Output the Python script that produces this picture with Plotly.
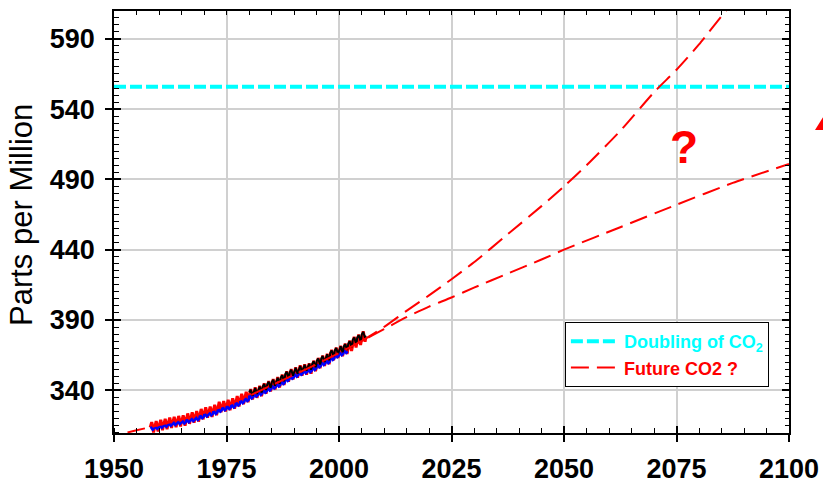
import plotly.graph_objects as go

# ---------------- data ----------------
years_obs = list(range(1958, 2006))
red_annual = [313.8, 314.5, 315.4, 316.1, 317.0, 317.5, 318.1, 318.5, 319.9, 320.7,
              321.5, 323.1, 324.2, 324.8, 326.0, 328.2, 328.7, 329.6, 330.6, 332.3,
              333.9, 335.3, 337.2, 338.4, 339.6, 341.3, 342.9, 344.4, 345.7, 347.5,
              349.9, 351.4, 352.7, 354.1, 354.9, 355.6, 357.4, 359.4, 361.1, 362.3,
              365.1, 366.8, 368.0, 369.6, 371.7, 374.3, 376.0, 378.3]
red_season = [-0.2, 0.8, 1.8, 3.0, 3.6, 2.6, 0.9, -1.6, -3.6, -3.8, -2.3, -1.2]

years_blue = list(range(1958, 2002))
blue_annual = [312.8, 313.5, 314.2, 314.9, 315.6, 316.2, 316.8, 317.2, 318.1, 318.9,
               319.7, 321.0, 322.2, 323.0, 324.1, 325.7, 326.6, 327.6, 328.6, 330.1,
               331.7, 333.2, 335.1, 336.4, 337.6, 339.1, 340.7, 342.2, 343.6, 345.3,
               347.5, 349.1, 350.5, 351.9, 353.0, 353.8, 355.3, 357.2, 358.9, 360.2,
               362.5, 364.4, 365.8, 367.4]
blue_season = [0.4, 0.7, 0.8, 0.6, 0.2, -0.3, -0.7, -0.9, -0.7, -0.3, 0.0, 0.2]

years_black = list(range(1980, 2006))
black_annual = [338.3, 339.5, 340.7, 342.4, 344.0, 345.5, 346.9, 348.7, 351.1, 352.6,
                353.9, 355.3, 356.1, 356.8, 358.6, 360.6, 362.3, 363.5, 366.3, 368.0,
                369.2, 370.8, 372.9, 375.5, 377.2, 379.5]
black_season = [0.2, 0.8, 1.5, 2.0, 2.0, 1.2, 0.0, -1.4, -2.2, -2.2, -1.3, -0.6]

future_low_years = [1953, 1955, 1960, 1965, 1970, 1975, 1980, 1985, 1990, 1995, 2000,
                    2005, 2010, 2015, 2020, 2025, 2030, 2037.5, 2045, 2050, 2062.5,
                    2075, 2087.5, 2100]
future_low_ppm = [310.0, 311.5, 315.3, 319.3, 324.0, 329.5, 336.0, 343.5, 351.0, 358.5,
                  366.5, 375.0, 383.5, 392.0, 399.5, 406.0, 413.0, 423.0, 433.0, 440.0,
                  456.0, 472.0, 487.5, 501.0]

future_high_years = [2005, 2010, 2015, 2020, 2025, 2030, 2037.5, 2045, 2050, 2055,
                     2062.5, 2070, 2075, 2080, 2086, 2092]
future_high_ppm = [375.0, 385.0, 396.5, 407.5, 419.0, 431.0, 451.0, 471.0, 485.0, 500.0,
                   524.5, 552.0, 568.0, 586.0, 610.0, 632.0]

doubling_ppm = 556
x_ticks = [1950, 1975, 2000, 2025, 2050, 2075, 2100]
y_ticks = [340, 390, 440, 490, 540, 590]


def monthly(years, annual, season):
    xs, ys = [], []
    for yr, a in zip(years, annual):
        for m, s in enumerate(season):
            xs.append(yr + (m + 0.5) / 12)
            ys.append(a + s)
    return xs, ys


FONT = "Arial, Liberation Sans, sans-serif"
fig = go.Figure()

bx, by = monthly(years_blue, blue_annual, blue_season)
rx, ry = monthly(years_obs, red_annual, red_season)
kx, ky = monthly(years_black, black_annual, black_season)

fig.add_trace(go.Scatter(x=rx, y=ry, mode="lines", line=dict(color="#ff0000", width=3),
                         showlegend=False, hoverinfo="skip"))
fig.add_trace(go.Scatter(x=bx, y=by, mode="lines", line=dict(color="#0000ff", width=2.5),
                         showlegend=False, hoverinfo="skip"))
fig.add_trace(go.Scatter(x=kx, y=ky, mode="lines", line=dict(color="#000000", width=2),
                         showlegend=False, hoverinfo="skip"))

fig.add_trace(go.Scatter(x=[1950, 2100], y=[doubling_ppm, doubling_ppm], mode="lines",
                         line=dict(color="#00ffff", width=4, dash="12px,4px"),
                         name="<span style='color:#00ffff'>Doubling of CO<sub>2</sub></span>"))
fig.add_trace(go.Scatter(x=future_low_years, y=future_low_ppm, mode="lines",
                         line=dict(color="#ff0000", width=2, dash="18px,8px", shape="spline", smoothing=0.6),
                         name="<span style='color:#ff0000'>Future CO2 ?</span>",
                         legendgroup="future"))
fig.add_trace(go.Scatter(x=future_high_years, y=future_high_ppm, mode="lines",
                         line=dict(color="#ff0000", width=2, dash="18px,8px", shape="spline", smoothing=0.6),
                         showlegend=False, legendgroup="future"))

# dummy traces to activate overlay axes
for xa, ya in [("x2", "y"), ("x3", "y"), ("x", "y2"), ("x", "y3")]:
    fig.add_trace(go.Scatter(x=[None], y=[None], xaxis=xa, yaxis=ya, showlegend=False,
                             hoverinfo="skip"))

XR = [1950, 2100]
YR = [309.6, 609.8]
common = dict(zeroline=False, fixedrange=True, automargin=False)

fig.update_layout(
    width=823, height=488,
    margin=dict(l=114, r=34, t=11, b=55),
    paper_bgcolor="white", plot_bgcolor="white",
    font=dict(family=FONT, color="black"),
    xaxis=dict(range=XR, tickvals=x_ticks, ticks="outside", ticklen=7, tickwidth=1.5,
               tickcolor="black", showgrid=True, gridcolor="#d0d0d0", gridwidth=1.5,
               showline=True, linecolor="black", linewidth=1.5,
               tickfont=dict(size=27, family=FONT, weight="bold"), ticklabelstandoff=4,
               minor=dict(dtick=5, tick0=1950, ticks="inside", ticklen=5, tickcolor="black",
                          tickwidth=1, showgrid=False), **common),
    xaxis2=dict(range=XR, overlaying="x", side="bottom", anchor="y", tickvals=x_ticks,
                ticks="inside", ticklen=7, tickwidth=1.5, tickcolor="black",
                showticklabels=False, showgrid=False, showline=False, **common),
    xaxis3=dict(range=XR, overlaying="x", side="top", anchor="y", dtick=5, tick0=1950,
                ticks="inside", ticklen=4, tickwidth=1, tickcolor="black",
                showticklabels=False, showgrid=False, showline=True, linecolor="black",
                linewidth=1.5, **common),
    yaxis=dict(range=YR, tickvals=y_ticks, ticks="outside", ticklen=7, tickwidth=1.5,
               tickcolor="black", showgrid=True, gridcolor="#d0d0d0", gridwidth=1.5,
               showline=True, linecolor="black", linewidth=1.5,
               tickfont=dict(size=27, family=FONT, weight="bold"), ticklabelstandoff=5,
               minor=dict(dtick=5, tick0=340, ticks="inside", ticklen=5, tickcolor="black",
                          tickwidth=1, showgrid=False), **common),
    yaxis2=dict(range=YR, overlaying="y", side="left", anchor="x", tickvals=y_ticks,
                ticks="inside", ticklen=7, tickwidth=1.5, tickcolor="black",
                showticklabels=False, showgrid=False, showline=False, **common),
    yaxis3=dict(range=YR, overlaying="y", side="right", anchor="x", tickvals=y_ticks,
                ticks="inside", ticklen=7, tickwidth=1.5, tickcolor="black",
                showticklabels=False, showgrid=False, showline=True, linecolor="black",
                linewidth=1.5,
                minor=dict(dtick=5, tick0=340, ticks="inside", ticklen=4, tickcolor="black",
                           tickwidth=1, showgrid=False), **common),
    legend=dict(x=0.668, y=0.263, xanchor="left", yanchor="top", bgcolor="white",
                bordercolor="black", borderwidth=1, tracegroupgap=0, itemwidth=48,
                font=dict(size=18, family=FONT, weight="bold")),
    showlegend=True,
)

fig.add_annotation(xref="paper", yref="paper", x=-0.1363, y=0.5166, text="Parts per Million",
                   textangle=-90, showarrow=False, xanchor="center", yanchor="middle",
                   font=dict(size=31, family=FONT, color="black"))

fig.add_annotation(x=2076.7, y=513, text="<b>?</b>", showarrow=False,
                   font=dict(size=46, color="#ff0000", family=FONT))

fig.add_shape(type="path", xref="paper", yref="paper",
              path="M 1.0385 0.718 L 1.0607 0.7749 L 1.0607 0.718 Z",
              fillcolor="#ff0000", line=dict(width=0))

fig.write_html("out.html", config={"displayModeBar": False},
               post_script="document.body.style.margin='0';document.body.style.overflow='hidden';")
